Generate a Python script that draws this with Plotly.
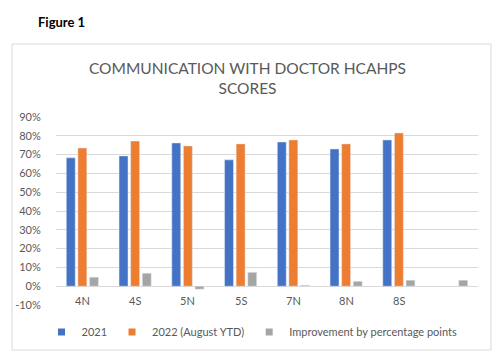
import plotly.graph_objects as go

categories = ["4N", "4S", "5N", "5S", "7N", "8N", "8S", " "]
scores_2021 = [0.683, 0.693, 0.762, 0.672, 0.767, 0.730, 0.778, None]
scores_2022 = [0.735, 0.772, 0.746, 0.757, 0.778, 0.757, 0.815, None]
improvement = [0.048, 0.069, -0.016, 0.074, 0.005, 0.026, 0.032, 0.032]
series_names = ["2021", "2022 (August YTD)", "Improvement by percentage points"]
series_colors = ["#4472C4", "#ED7D31", "#A5A5A5"]
y_ticks = [-0.1, 0, 0.1, 0.2, 0.3, 0.4, 0.5, 0.6, 0.7, 0.8, 0.9]
y_tick_labels = ["-10%", "0%", "10%", "20%", "30%", "40%", "50%", "60%", "70%", "80%", "90%"]

FONT = "Lato, 'Open Sans', sans-serif"
TXT = "#595959"

L, R, T, B = 56, 23, 117, 54
W, H = 501, 359
pw, ph = W - L - R, H - T - B

def px(xp):
    return (xp - L) / pw

def py(yp):
    return (H - B - yp) / ph

fig = go.Figure()
for vals, name, col in zip([scores_2021, scores_2022, improvement], series_names, series_colors):
    fig.add_trace(go.Bar(x=categories, y=vals, name=name, marker_color=col, showlegend=False))
# legend-only entries with small square symbols
for name, col in zip(series_names, series_colors):
    fig.add_trace(go.Scatter(x=[None], y=[None], mode="markers", name=name,
                             marker=dict(symbol="square", size=7, color=col)))

# category labels placed just below the zero line, as in the reference
for c in categories:
    fig.add_annotation(x=c, y=0, xref="x", yref="y", text=c.strip(), showarrow=False,
                       yshift=-14, font=dict(family=FONT, size=11, color=TXT))

fig.add_annotation(x=px(61), y=py(22), xref="paper", yref="paper", text="<b>Figure 1</b>", showarrow=False,
                   xanchor="center", yanchor="middle",
                   font=dict(family=FONT, size=13, color="black"))

fig.add_shape(type="rect", xref="paper", yref="paper", x0=px(12), x1=px(491), y0=py(350), y1=py(44),
              line=dict(color="#D9D9D9", width=1), fillcolor="rgba(0,0,0,0)", layer="below")

fig.update_layout(
    width=W, height=H,
    margin=dict(l=L, r=R, t=T, b=B, pad=0, autoexpand=False),
    paper_bgcolor="white", plot_bgcolor="white",
    barmode="group", bargap=0.34, bargroupgap=0.23,
    title=dict(text="COMMUNICATION WITH DOCTOR HCAHPS<br>SCORES", xref="container", yref="container",
               x=247.5 / W, xanchor="center", y=1 - 74 / H, yanchor="top",
               font=dict(family=FONT, size=15.5, color=TXT)),
    font=dict(family=FONT, size=11, color=TXT),
    xaxis=dict(showticklabels=False, showgrid=False, zeroline=False, showline=False, ticks=""),
    yaxis=dict(range=[-0.1, 0.9], tickvals=y_ticks, ticktext=y_tick_labels, showgrid=True,
               gridcolor="#D9D9D9", gridwidth=1, zeroline=True, zerolinecolor="#D9D9D9", zerolinewidth=1,
               ticks="outside", ticklen=12, tickcolor="rgba(0,0,0,0)",
               tickfont=dict(family=FONT, size=11, color=TXT)),
    legend=dict(orientation="h", x=px(252), xanchor="center", y=py(332), yanchor="middle",
                font=dict(family=FONT, size=11, color=TXT), itemwidth=30, traceorder="normal",
                tracegroupgap=0),
    showlegend=True,
)

fig.write_html("out.html", post_script="document.body.style.margin='0';",
               config={"displayModeBar": False})
